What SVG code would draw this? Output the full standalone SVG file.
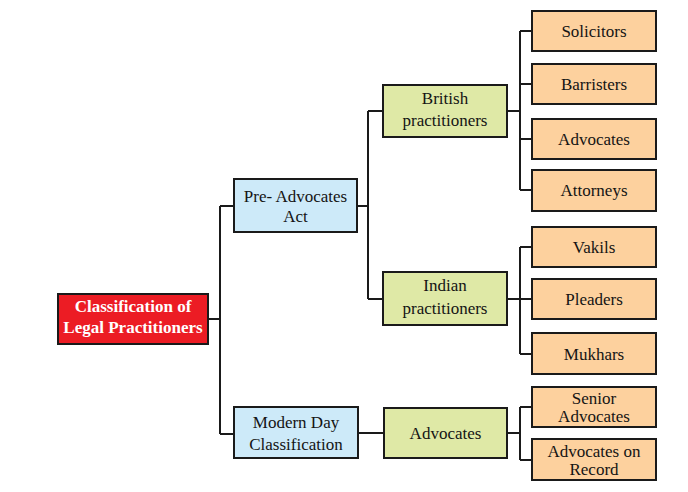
<svg xmlns="http://www.w3.org/2000/svg" width="688" height="492" viewBox="0 0 688 492">
<style>
rect{stroke:#1a1a1a;stroke-width:2}
.red{fill:#ec1c24}
.blue{fill:#cdeaf9}
.green{fill:#dfe9a6}
.orange{fill:#fdd19e}
text{font-family:"Liberation Serif","Times New Roman",serif;font-size:17px;fill:#141414;text-anchor:middle}
.w{fill:#fff;font-weight:bold}
#connectors path{fill:none;stroke:#1a1a1a;stroke-width:2}
</style>
<rect width="688" height="492" fill="#fff" style="stroke:none"/>
<g id="connectors">
<path d="M208 319H220M220 206V434M220 206H234M220 434H234"/>
<path d="M357 206H368M368 111V299M368 111H383M368 299H383"/>
<path d="M507 111H520M520 31V190M520 31H532M520 84H532M520 139H532M520 190H532"/>
<path d="M507 299H532M520 247V354M520 247H532M520 354H532"/>
<path d="M358 433H384M507 433H520M520 407V460M520 407H532M520 460H532"/>
</g>
<g id="root"><rect class="red" x="58" y="294" width="150" height="50"/><text class="w" x="133" y="312">Classification of</text><text class="w" x="133" y="333">Legal Practitioners</text></g>
<g id="pre"><rect class="blue" x="234" y="179" width="123" height="53"/><text x="295.5" y="202">Pre- Advocates</text><text x="295.5" y="222">Act</text></g>
<g id="modern"><rect class="blue" x="234" y="407" width="124" height="51"/><text x="296" y="428">Modern Day</text><text x="296" y="450">Classification</text></g>
<g id="british"><rect class="green" x="383" y="85" width="124" height="52"/><text x="445" y="104">British</text><text x="445" y="126">practitioners</text></g>
<g id="indian"><rect class="green" x="383" y="272" width="124" height="53"/><text x="445" y="291">Indian</text><text x="445" y="314">practitioners</text></g>
<g id="advocates-modern"><rect class="green" x="384" y="408" width="123" height="50"/><text x="445.5" y="439">Advocates</text></g>
<g id="solicitors"><rect class="orange" x="532" y="11" width="124" height="40"/><text x="594" y="37">Solicitors</text></g>
<g id="barristers"><rect class="orange" x="532" y="64" width="124" height="40"/><text x="594" y="90">Barristers</text></g>
<g id="advocates"><rect class="orange" x="532" y="119" width="124" height="40"/><text x="594" y="145">Advocates</text></g>
<g id="attorneys"><rect class="orange" x="532" y="170" width="124" height="41"/><text x="594" y="196">Attorneys</text></g>
<g id="vakils"><rect class="orange" x="532" y="227" width="124" height="40"/><text x="594" y="253">Vakils</text></g>
<g id="pleaders"><rect class="orange" x="532" y="279" width="124" height="40"/><text x="594" y="305">Pleaders</text></g>
<g id="mukhars"><rect class="orange" x="532" y="333" width="124" height="41"/><text x="594" y="360">Mukhars</text></g>
<g id="senior"><rect class="orange" x="532" y="387" width="124" height="40"/><text x="594" y="404">Senior</text><text x="594" y="422">Advocates</text></g>
<g id="aor"><rect class="orange" x="532" y="439" width="124" height="41"/><text x="594" y="457">Advocates on</text><text x="594" y="475">Record</text></g>
</svg>
